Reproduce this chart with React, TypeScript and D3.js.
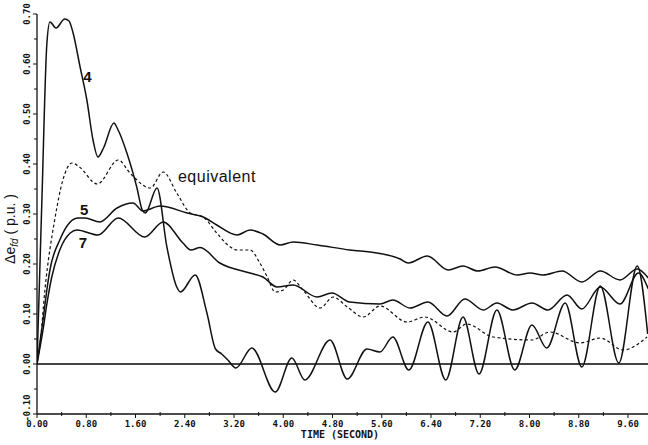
import * as d3 from 'd3';

// values: [time (s), delta e_fd (p.u.)]
const curve4: [number, number][] = [
  [0, 0], [0.08, 0.33], [0.16, 0.64], [0.21, 0.684], [0.31, 0.672], [0.45, 0.69], [0.52, 0.686],
  [0.58, 0.665], [0.7, 0.594], [0.81, 0.528], [0.91, 0.448], [0.99, 0.414], [1.08, 0.432],
  [1.25, 0.482], [1.31, 0.47], [1.46, 0.422], [1.62, 0.354], [1.71, 0.308], [1.76, 0.302],
  [1.95, 0.352], [2.11, 0.234], [2.27, 0.154], [2.33, 0.144], [2.57, 0.178], [2.76, 0.102],
  [2.9, 0.03], [3.0, 0.02], [3.1, 0.008], [3.23, -0.008], [3.49, 0.032], [3.87, -0.056],
  [4.14, 0.012], [4.35, -0.032], [4.76, 0.048], [5.04, -0.03], [5.36, 0.03], [5.57, 0.024],
  [5.78, 0.054], [6.04, -0.012], [6.35, 0.084], [6.64, -0.032], [6.92, 0.094], [7.18, -0.02],
  [7.47, 0.108], [7.76, -0.012], [8.04, 0.078], [8.28, 0.032], [8.58, 0.122], [8.85, -0.006],
  [9.15, 0.156], [9.45, 0.002], [9.75, 0.196], [9.92, 0.06],
];

const curve5: [number, number][] = [
  [0, 0], [0.1, 0.09], [0.16, 0.148], [0.21, 0.188], [0.37, 0.248], [0.54, 0.284], [0.67, 0.292],
  [0.78, 0.292], [1.02, 0.284], [1.3, 0.312], [1.56, 0.322], [1.72, 0.306], [2.0, 0.316],
  [2.44, 0.302], [2.7, 0.294], [2.92, 0.278], [3.25, 0.258], [3.46, 0.268], [3.67, 0.26],
  [3.95, 0.238], [4.16, 0.244], [4.55, 0.238], [5.08, 0.228], [5.52, 0.222], [5.9, 0.21],
  [6.03, 0.202], [6.34, 0.216], [6.68, 0.188], [6.92, 0.196], [7.16, 0.186], [7.44, 0.194],
  [7.8, 0.178], [8.01, 0.182], [8.22, 0.178], [8.53, 0.186], [8.85, 0.164], [9.15, 0.186],
  [9.47, 0.168], [9.75, 0.19], [9.93, 0.172],
];

const curve7: [number, number][] = [
  [0, 0], [0.1, 0.07], [0.16, 0.12], [0.24, 0.174], [0.37, 0.228], [0.54, 0.262], [0.65, 0.268],
  [0.99, 0.258], [1.32, 0.292], [1.75, 0.254], [2.05, 0.284], [2.37, 0.242], [2.5, 0.228],
  [2.65, 0.233], [2.97, 0.202], [3.46, 0.182], [3.67, 0.174], [3.9, 0.154], [4.16, 0.158],
  [4.55, 0.134], [4.79, 0.142], [5.08, 0.124], [5.57, 0.12], [5.78, 0.128], [6.06, 0.112],
  [6.35, 0.124], [6.66, 0.096], [6.95, 0.13], [7.25, 0.108], [7.47, 0.122], [7.73, 0.108],
  [8.04, 0.122], [8.3, 0.108], [8.61, 0.138], [8.85, 0.11], [9.15, 0.154], [9.47, 0.12],
  [9.77, 0.182], [9.93, 0.15],
];

const equivalent: [number, number][] = [
  [0, 0], [0.05, 0.04], [0.13, 0.15], [0.29, 0.29], [0.42, 0.368], [0.57, 0.402], [0.68, 0.395],
  [0.98, 0.36], [1.32, 0.408], [1.51, 0.382], [1.84, 0.352], [2.05, 0.384], [2.27, 0.342],
  [2.49, 0.302], [2.7, 0.294], [2.92, 0.262], [3.14, 0.234], [3.25, 0.228], [3.46, 0.228],
  [3.62, 0.202], [3.74, 0.174], [3.87, 0.144], [4.0, 0.148], [4.16, 0.168], [4.32, 0.148],
  [4.6, 0.112], [4.81, 0.134], [5.04, 0.114], [5.3, 0.094], [5.57, 0.116], [6.01, 0.084],
  [6.3, 0.094], [6.76, 0.064], [6.98, 0.08], [7.41, 0.054], [8.04, 0.048], [8.33, 0.064],
  [8.82, 0.042], [9.15, 0.052], [9.52, 0.028], [9.91, 0.054],
];

const xTicks = [0, 0.8, 1.6, 2.4, 3.2, 4.0, 4.8, 5.6, 6.4, 7.2, 8.0, 8.8, 9.6];
const yTicks = [-0.1, 0, 0.1, 0.2, 0.3, 0.4, 0.5, 0.6, 0.7];

const width = 648;
const height = 445;
const ink = '#111';
const tickFont = '"DejaVu Sans Mono", monospace';

export default function App() {
  const x = d3.scaleLinear().domain([0, 9.6]).range([37, 628]);
  const y = d3.scaleLinear().domain([-0.1, 0.7]).range([414, 14]);
  const xEnd = width;

  const line = d3.line<[number, number]>()
    .x(d => x(d[0]))
    .y(d => y(d[1]))
    .curve(d3.curveMonotoneX);

  // minor ticks halfway between the labelled ones
  const xMinor = xTicks.slice(0, -1).map(t => t + 0.4).concat([10.0]);
  const yMinor = yTicks.slice(0, -1).map(v => v + 0.05);

  return (
    <svg width={width} height={height} style={{ position: 'absolute', left: 0, top: 0, background: '#fff' }}>
      <defs>
        <clipPath id="plot">
          <rect x={x(0)} y={0} width={xEnd - x(0)} height={height} />
        </clipPath>
      </defs>

      {/* zero line */}
      <line x1={x(0)} x2={xEnd} y1={y(0)} y2={y(0)} stroke="#444" strokeWidth={2} />

      {/* axes */}
      <line x1={x(0)} x2={xEnd} y1={y(-0.1)} y2={y(-0.1)} stroke={ink} strokeWidth={1.3} />
      <line x1={x(0)} x2={x(0)} y1={y(-0.1)} y2={y(0.7)} stroke={ink} strokeWidth={1.3} />

      {xTicks.map(t => (
        <g key={'xt' + t}>
          <line x1={x(t)} x2={x(t)} y1={y(-0.1)} y2={y(-0.1) + 4} stroke={ink} />
          <text x={x(t)} y={y(-0.1) + 13} textAnchor="middle" fontFamily={tickFont} fontWeight="bold" fontSize={9} fill={ink}>
            {t.toFixed(2)}
          </text>
        </g>
      ))}
      {xMinor.map(t => (
        <line key={'xm' + t} x1={x(t)} x2={x(t)} y1={y(-0.1) - 2} y2={y(-0.1) + 2} stroke={ink} />
      ))}

      {yTicks.map(v => (
        <g key={'yt' + v}>
          <line x1={x(0) - 4} x2={x(0)} y1={y(v)} y2={y(v)} stroke={ink} />
          <text
            transform={`translate(${x(0) - 7},${y(v) - (v < 0 ? 6 : 0)}) rotate(-90)`}
            textAnchor="middle"
            fontFamily={tickFont}
            fontWeight="bold"
            fontSize={9}
            fill={ink}
          >
            {v.toFixed(2)}
          </text>
        </g>
      ))}
      {yMinor.map(v => (
        <line key={'ym' + v} x1={x(0) - 3} x2={x(0)} y1={y(v)} y2={y(v)} stroke={ink} />
      ))}

      <text x={340} y={438} textAnchor="middle" fontFamily={tickFont} fontSize={10} fontWeight="bold" fill={ink}>
        TIME (SECOND)
      </text>
      <text
        transform={`translate(15,${y(0.27)}) rotate(-90)`}
        textAnchor="middle"
        fontFamily='"Liberation Sans", Arial, sans-serif'
        fontSize={14}
        fill={ink}
      >
        Δe<tspan fontSize={10} dy={3} fontStyle="italic">fd</tspan><tspan dy={-3}> ( p.u. )</tspan>
      </text>

      {/* curves */}
      <g clipPath="url(#plot)" fill="none" stroke={ink}>
        <path d={line(equivalent) ?? ''} strokeWidth={1.2} strokeDasharray="3,2.5" />
        <path d={line(curve7) ?? ''} strokeWidth={1.5} />
        <path d={line(curve5) ?? ''} strokeWidth={1.5} />
        <path d={line(curve4) ?? ''} strokeWidth={1.5} />
      </g>

      {/* curve labels */}
      <g fontFamily='"Liberation Sans", Arial, sans-serif' fill={ink}>
        <text x={x(0.75)} y={y(0.565)} fontSize={15} fontWeight="bold">4</text>
        <text x={x(0.7)} y={y(0.298)} fontSize={15} fontWeight="bold">5</text>
        <text x={x(0.68)} y={y(0.232)} fontSize={15} fontWeight="bold">7</text>
        <text x={x(2.29)} y={y(0.365)} fontSize={16} letterSpacing={0.5}>equivalent</text>
      </g>
    </svg>
  );
}
